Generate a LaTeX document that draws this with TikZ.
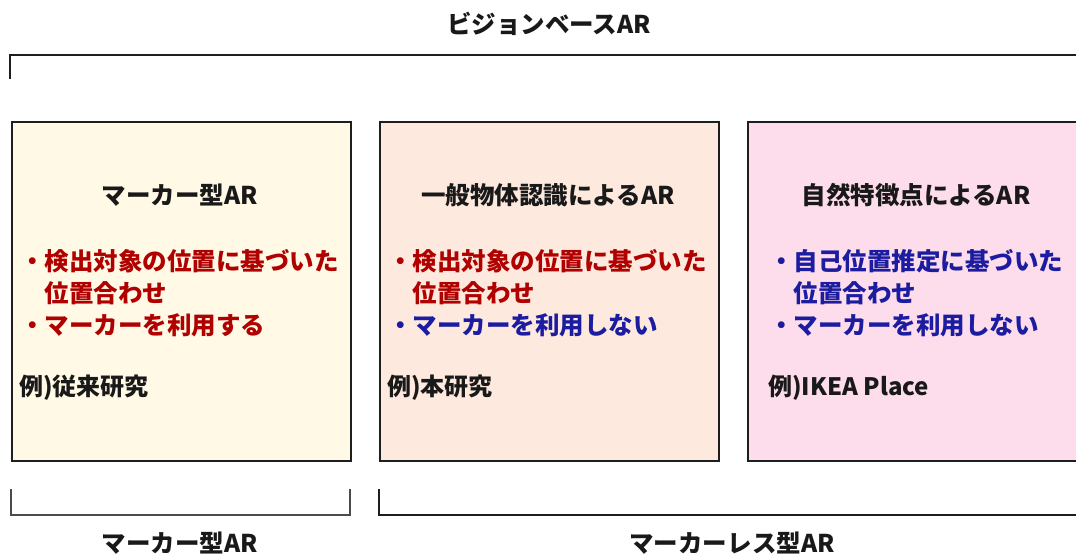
\documentclass[tikz,border=0pt]{standalone}
\usepackage{fontspec}
\setmainfont{Noto Sans CJK JP}
\definecolor{boxA}{RGB}{255,249,230}
\definecolor{boxB}{RGB}{253,233,222}
\definecolor{boxC}{RGB}{253,220,236}
\definecolor{txtred}{RGB}{176,0,0}
\definecolor{txtblue}{RGB}{28,28,160}
\definecolor{lineclr}{RGB}{30,30,30}
\tikzset{
  panel/.style={draw=lineclr, line width=2pt, minimum width=339pt, minimum height=339pt, inner sep=0pt, anchor=north west},
  bracket/.style={draw=lineclr, line width=2pt},
  thinbracket/.style={draw=lineclr!80, line width=1.5pt},
  heading/.style={font=\fontsize{24.5}{28}\selectfont\bfseries, text=black!90, inner sep=0pt},
  bullets/.style={font=\fontsize{24.5}{32}\selectfont\bfseries, align=left, inner sep=0pt, anchor=base west},
  example/.style={font=\fontsize{24}{28}\selectfont\bfseries, text=black!90, inner sep=0pt, anchor=west},
}
\begin{document}
\begin{tikzpicture}[x=1pt, y=-1pt]
\clip (0,0) rectangle (1076,554);
\useasboundingbox (0,0) rectangle (1076,554);

\node[heading] (title) at (549,24) {ビジョンベースAR};
\coordinate (tl) at (10,79);
\coordinate (tc) at (10,55);
\coordinate (tr) at (1090,55);
\draw[bracket, line width=2.5pt] (tl) -- (tc) -- (tr);

\node[panel, fill=boxA] (b1) at (11,121) {};
\node[panel, fill=boxB] (b2) at (379,121) {};
\node[panel, fill=boxC] (b3) at (747,121) {};

\node[heading] (h1) at (180,195) {マーカー型AR};
\node[heading] (h2) at (548,195) {一般物体認識によるAR};
\node[heading] (h3) at (916,195) {自然特徴点によるAR};

\node[bullets, text=txtred] (l1) at (20,334) {・検出対象の位置に基づいた\\\hspace*{1em}位置合わせ\\・マーカーを利用する};
\node[bullets, text=txtred] (l2a) at (388,302) {・検出対象の位置に基づいた\\\hspace*{1em}位置合わせ};
\node[bullets, text=txtblue] (l2b) at (388,334) {・マーカーを利用しない};
\node[bullets, text=txtblue] (l3) at (769,334) {・自己位置推定に基づいた\\\hspace*{1em}位置合わせ\\・マーカーを利用しない};

\node[example] (e1) at (19,388) {例)従来研究};
\node[example] (e2) at (387,388) {例)本研究};
\node[example] (e3) at (768,388) {例)IKEA Place};

\coordinate (m1) at (11,489);
\coordinate (m2) at (11,515);
\coordinate (m3) at (350,515);
\coordinate (m4) at (350,489);
\draw[thinbracket] (m1) -- (m2) -- (m3) -- (m4);
\coordinate (n1) at (379,489);
\coordinate (n2) at (379,515);
\coordinate (n3) at (1090,515);
\draw[bracket] (n1) -- (n2) -- (n3);

\node[heading] (lab1) at (180,543) {マーカー型AR};
\node[heading] (lab2) at (732,543) {マーカーレス型AR};
\end{tikzpicture}
\end{document}
